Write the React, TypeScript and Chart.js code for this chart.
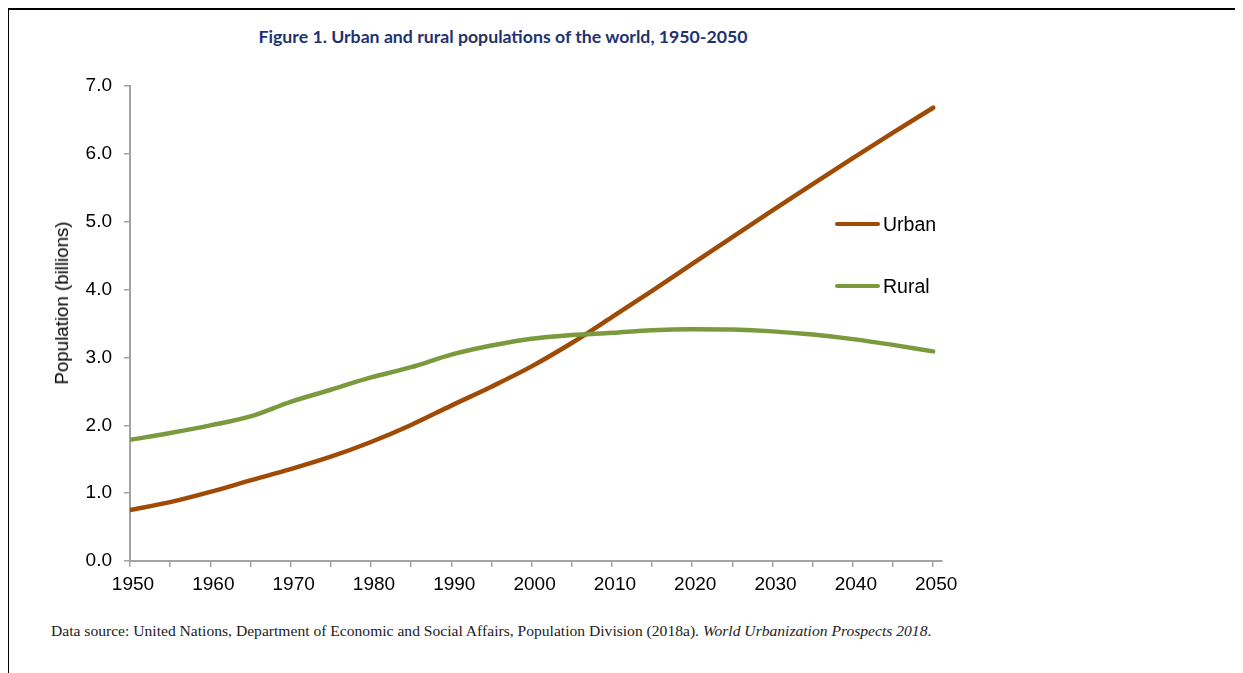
import React, { useEffect, useRef } from "react";
import { Chart, registerables } from "chart.js";

Chart.register(...registerables);

const YEARS = [1950, 1955, 1960, 1965, 1970, 1975, 1980, 1985, 1990, 1995, 2000, 2005, 2010, 2015, 2020, 2025, 2030, 2035, 2040, 2045, 2050];
const URBAN = [0.751, 0.868, 1.019, 1.188, 1.354, 1.537, 1.754, 2.005, 2.29, 2.569, 2.868, 3.212, 3.594, 3.981, 4.379, 4.774, 5.167, 5.555, 5.938, 6.312, 6.68];
const RURAL = [1.785, 1.886, 1.999, 2.131, 2.346, 2.524, 2.705, 2.856, 3.041, 3.175, 3.276, 3.33, 3.363, 3.402, 3.416, 3.41, 3.384, 3.337, 3.27, 3.185, 3.089];
const X_TICKS = [1950, 1955, 1960, 1965, 1970, 1975, 1980, 1985, 1990, 1995, 2000, 2005, 2010, 2015, 2020, 2025, 2030, 2035, 2040, 2045, 2050];
const X_LABEL_STEP = 10;
const Y_TICKS = [0, 1, 2, 3, 4, 5, 6, 7];

const TITLE = "Figure 1. Urban and rural populations of the world, 1950-2050";
const Y_TITLE = "Population (billions)";
const SERIES = [
  { label: "Urban", data: URBAN, color: "#9f4b05" },
  { label: "Rural", data: RURAL, color: "#7b9a3d" },
];

const AXIS_COLOR = "#a3a3a3";
const FONT = "'Liberation Sans', Arial, sans-serif";

export default function App() {
  const ref = useRef<HTMLCanvasElement>(null);

  useEffect(() => {
    if (!ref.current) return;
    const chart = new Chart(ref.current, {
      type: "line",
      data: {
        datasets: SERIES.map((s, i) => ({
          label: s.label,
          data: YEARS.map((y, j) => ({ x: y, y: s.data[j] })),
          borderColor: s.color,
          backgroundColor: s.color,
          borderWidth: 4.5,
          borderCapStyle: "round",
          pointRadius: 0,
          tension: 0.4,
          cubicInterpolationMode: "monotone",
          fill: false,
          order: i === 1 ? 0 : 1,
        })),
      },
      options: {
        responsive: false,
        animation: false,
        devicePixelRatio: 1,
        layout: { padding: { left: 0, top: 76, right: 68, bottom: 0 } },
        plugins: {
          legend: { display: false },
          title: { display: false },
          tooltip: { enabled: false },
        },
        scales: {
          x: {
            type: "linear",
            min: YEARS[0],
            max: YEARS[YEARS.length - 1] + 1.1,
            afterBuildTicks: (scale: any) => {
              scale.ticks = X_TICKS.map((v) => ({ value: v }));
            },
            afterFit: (scale: any) => {
              scale.height = 49;
            },
            grid: {
              display: true,
              drawOnChartArea: false,
              drawTicks: true,
              tickLength: 6,
              color: AXIS_COLOR,
              lineWidth: 1.5,
            },
            border: { display: true, color: AXIS_COLOR, width: 2 },
            ticks: {
              autoSkip: false,
              maxRotation: 0,
              padding: 6,
              labelOffset: 3,
              color: "#000",
              font: { family: FONT, size: 19 },
              callback: (v: any) => (Number(v) % X_LABEL_STEP === 0 ? String(v) : ""),
            },
          },
          y: {
            type: "linear",
            min: Y_TICKS[0],
            max: Y_TICKS[Y_TICKS.length - 1],
            afterBuildTicks: (scale: any) => {
              scale.ticks = Y_TICKS.map((v) => ({ value: v }));
            },
            afterFit: (scale: any) => {
              scale.width = 120;
            },
            grid: {
              display: true,
              drawOnChartArea: false,
              drawTicks: true,
              tickLength: 6,
              color: AXIS_COLOR,
              lineWidth: 1.5,
            },
            border: { display: true, color: AXIS_COLOR, width: 2 },
            ticks: {
              padding: 12,
              color: "#000",
              font: { family: FONT, size: 19 },
              callback: (v: any) => Number(v).toFixed(1),
            },
          },
        },
      },
    });
    return () => chart.destroy();
  }, []);

  return (
    <div style={{ position: "relative", width: 1235, height: 665, fontFamily: FONT }}>
      <div style={{ position: "absolute", left: -1, top: 0, width: 1236, height: 2, background: "#000" }} />
      <div style={{ position: "absolute", left: -1, top: 0, width: 2, height: 665, background: "#000" }} />
      <div
        style={{
          position: "absolute",
          left: 0,
          width: 990,
          top: 18,
          textAlign: "center",
          fontFamily: "Lato, 'Open Sans', sans-serif",
          fontWeight: 700,
          fontSize: 17.7,
          color: "#1f3371",
          whiteSpace: "nowrap",
        }}
      >
        {TITLE}
      </div>
      <canvas ref={ref} width={1000} height={600} style={{ position: "absolute", left: 2, top: 2 }} />
      <div
        style={{
          position: "absolute",
          left: 54,
          top: 295,
          transform: "translate(-50%, -50%) rotate(-90deg)",
          fontSize: 18.7,
          color: "#000",
          whiteSpace: "nowrap",
        }}
      >
        {Y_TITLE}
      </div>
      {SERIES.map((s, i) => (
        <div
          key={s.label}
          style={{ position: "absolute", left: 827, top: 207 + i * 62, height: 18, display: "flex", alignItems: "center" }}
        >
          <div style={{ width: 45, height: 4.5, borderRadius: 2.25, background: s.color }} />
          <span style={{ marginLeft: 3, fontSize: 19.5, color: "#000", lineHeight: "18px" }}>{s.label}</span>
        </div>
      ))}
      <div
        style={{
          position: "absolute",
          left: 43,
          top: 614,
          fontFamily: "'Liberation Serif', 'Times New Roman', serif",
          fontSize: 15.6,
          color: "#222",
          whiteSpace: "nowrap",
        }}
      >
        Data source: United Nations, Department of Economic and Social Affairs, Population Division (2018a).{" "}
        <i>World Urbanization Prospects 2018</i>.
      </div>
    </div>
  );
}
